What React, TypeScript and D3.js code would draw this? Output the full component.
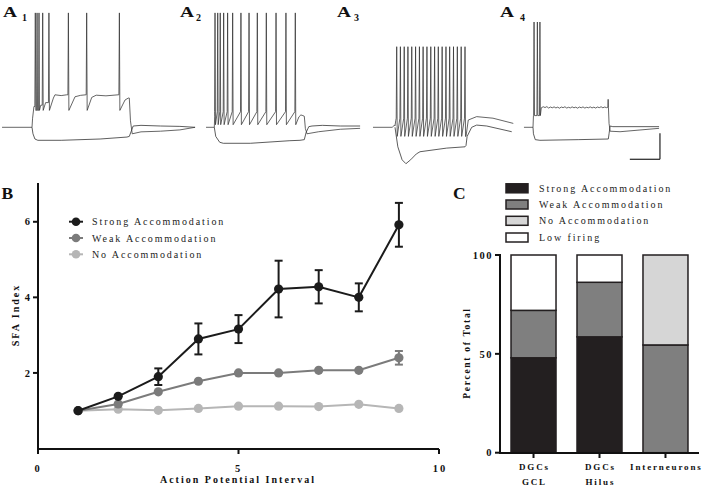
import React, { useEffect } from "react";
import * as d3 from "d3";

// ---------------- Panel B data ----------------
const intervals = [1, 2, 3, 4, 5, 6, 7, 8, 9];
const strongMean = [1.0, 1.38, 1.9, 2.9, 3.16, 4.22, 4.28, 4.0, 5.92];
const strongSem = [0, 0.05, 0.22, 0.41, 0.37, 0.75, 0.44, 0.37, 0.58];
const weakMean = [1.0, 1.18, 1.5, 1.78, 2.0, 2.0, 2.07, 2.07, 2.4];
const weakSem = [0, 0.04, 0.05, 0.05, 0.12, 0.12, 0.12, 0.12, 0.18];
const noMean = [1.0, 1.04, 1.01, 1.06, 1.12, 1.12, 1.11, 1.17, 1.06];
const noSem = [0, 0.03, 0.02, 0.03, 0.03, 0.03, 0.03, 0.08, 0.08];
const seriesNames = ["Strong Accommodation", "Weak Accommodation", "No Accommodation"];
const bXTicks = [0, 5, 10];
const bYTicks = [2, 4, 6];

// ---------------- Panel C data ----------------
const groups = ["DGCs GCL", "DGCs Hilus", "Interneurons"];
const groupLine1 = ["DGCs", "DGCs", "Interneurons"];
const groupLine2 = ["GCL", "Hilus", ""];
const strongPct = [48, 58.6, 0];
const weakPct = [24, 27.6, 54.5];
const noPct = [0, 0, 45.5];
const lowPct = [28, 13.8, 0];
const cCategories = ["Strong Accommodation", "Weak Accommodation", "No Accommodation", "Low firing"];
const cYTicks = [0, 50, 100];

// ---------------- Traces (time in ms from step onset, voltage in mV) ----------------
const a1Spikes = [17, 26, 36, 55, 87, 187, 281, 449];
const a1Dep: [number, number][] = [[-154, -65], [0, -65], [3, -58], [10, -49], [45, -48], [70, -46], [110, -42.5], [118, -40], [150, -40.6], [178, -40], [221, -41.5], [250, -40.4], [277, -40], [307, -42], [330, -40.3], [380, -40.8], [443, -40], [478, -44], [495, -42.5], [500, -42.5], [506, -60], [515, -70], [560, -68.5], [660, -68], [760, -67], [838, -65]];
const a1Hyp: [number, number][] = [[0, -65], [5, -70], [15, -74], [30, -75], [150, -75], [350, -74], [488, -72.5], [500, -72], [510, -68], [520, -64], [560, -63.5], [660, -64], [760, -64.3], [838, -65]];

const a2Spikes = [4, 19, 33, 52, 74, 102, 148, 193, 239, 289, 343, 398, 450];
const a2Dep: [number, number][] = [[-46, -65], [0, -65], [2, -57], [470, -57], [481, -55.5], [492, -56], [500, -56.5], [506, -66], [515, -70], [580, -68.4], [700, -66.5], [810, -65.8]];
const a2Hyp: [number, number][] = [[0, -65], [8, -72], [30, -76.5], [50, -77.3], [200, -77.3], [420, -75.3], [476, -75], [500, -74.5], [510, -69], [525, -64.5], [543, -64], [600, -63.5], [700, -64], [810, -64]];

const a3Spikes = [12, 38, 65, 91, 118, 145, 172, 198, 225, 252, 279, 305, 332, 359, 385, 412, 439, 466, 493];
const a3Dep: [number, number][] = [[-155, -65], [-20, -65], [-5, -63.5], [0, -64], [5, -60], [500, -72], [516, -59.4], [575, -56.8], [690, -58], [833, -62]];
const a3Hyp: [number, number][] = [[0, -65], [20, -80], [50, -90], [77, -93], [110, -90], [150, -85.5], [176, -83.8], [364, -81], [493, -80], [500, -79], [508, -72], [540, -65], [575, -63.3], [646, -64], [822, -68.4]];

const a4Spikes = [7, 29, 46];
const a4Dep: [number, number][] = [[-60, -65], [0, -65], [3, -56], [55, -50], [68, -49.2], [80, -49.8], [92, -49.1], [104, -50.2], [116, -49.4], [128, -50], [140, -49.3], [152, -50.1], [164, -49.5], [176, -50.3], [188, -49.4], [200, -49.9], [212, -49.2], [224, -50.2], [236, -49.6], [248, -50.1], [260, -49.3], [272, -50], [284, -49.5], [296, -50.3], [308, -49.4], [320, -50], [332, -49.3], [344, -50.2], [356, -49.6], [368, -50], [380, -49.3], [392, -50.1], [404, -49.5], [416, -50.2], [428, -49.4], [440, -49.9], [452, -49.2], [464, -50], [476, -49.4], [488, -49.9], [497, -49.6], [499, -43.5], [501, -50], [505, -62], [512, -68], [578, -68.4], [837, -65.8]];
const a4Hyp: [number, number][] = [[0, -65], [3, -70], [15, -74.5], [46, -75], [300, -74.5], [500, -74], [505, -70], [512, -64], [530, -64.5], [837, -64.5]];

const scaleBarMs = 200;
const scaleBarMv = 20;

const FONT = "'Liberation Serif', 'Times New Roman', serif";

function buildTrace(knots: [number, number][], spikes: number[], peak: number, ahp: number, w: number, thr?: number) {
  const events: { t: number; v?: number; s: boolean }[] = [
    ...knots.map((k) => ({ t: k[0], v: k[1], s: false })),
    ...spikes.map((t) => ({ t, s: true })),
  ].sort((a, b) => a.t - b.t);
  const pts: [number, number][] = [];
  for (const e of events) {
    if (!e.s) pts.push([e.t, e.v as number]);
    else {
      const last = pts[pts.length - 1];
      const th = thr !== undefined ? thr : last[1];
      pts.push([e.t - w, th]);
      pts.push([e.t, peak]);
      pts.push([e.t + w, ahp]);
    }
  }
  return pts;
}

const vScale = d3.scaleLinear().domain([-65, 20]).range([127.3, 127.3 - 85 * 1.3]);

function TracePanel(props: { x0: number; x1: number; dep: [number, number][]; hyp: [number, number][]; spikes: number[]; peak: number; ahp: number; w: number; thr?: number; label: string; lx: number; sx: number }) {
  const xs = d3.scaleLinear().domain([0, 500]).range([props.x0, props.x1]);
  const line = d3.line<[number, number]>().x((d) => xs(d[0])).y((d) => vScale(d[1]));
  const depPts = buildTrace(props.dep, props.spikes, props.peak, props.ahp, props.w, props.thr);
  return (
    <g>
      <path d={line(props.hyp) || ""} fill="none" stroke="#333" strokeWidth={0.8} />
      <path d={line(depPts) || ""} fill="none" stroke="#333" strokeWidth={0.75} />
      <text x={props.lx} y={17} fontFamily={FONT} fontWeight="bold" fontSize={15} fill="#111" transform={`translate(${props.lx},0) scale(1.3,1) translate(${-props.lx},0)`}>A</text>
      <text x={props.sx} y={21} fontFamily={FONT} fontWeight="bold" fontSize={10} fill="#111">{props.label}</text>
    </g>
  );
}

function PanelB() {
  const x = d3.scaleLinear().domain([0, 10]).range([38, 439]);
  const y = d3.scaleLinear().domain([0, 7]).range([448.5, 184]);
  const colors = ["#1b1b1b", "#7b7b7b", "#b6b6b6"];
  const means = [strongMean, weakMean, noMean];
  const sems = [strongSem, weakSem, noSem];
  const line = d3.line<number>().x((_, i) => x(intervals[i])).y((d) => y(d));
  const r = 4.6;
  const order = [2, 1, 0];
  return (
    <g fontFamily={FONT}>
      <text x={1.5} y={198.5} fontSize={17.5} fontWeight="bold" fill="#111">B</text>
      {order.map((s) => (
        <g key={s}>
          <path d={line(means[s]) || ""} fill="none" stroke={colors[s]} strokeWidth={2} />
          {means[s].map((m, i) => {
            const e = sems[s][i];
            const cx = x(intervals[i]);
            const show = (y(m) - y(m + e)) > r;
            return (
              <g key={i}>
                {show && (
                  <g stroke={colors[s]} strokeWidth={2}>
                    <line x1={cx} x2={cx} y1={y(m + e)} y2={y(m - e)} />
                    <line x1={cx - 4} x2={cx + 4} y1={y(m + e)} y2={y(m + e)} />
                    <line x1={cx - 4} x2={cx + 4} y1={y(m - e)} y2={y(m - e)} />
                  </g>
                )}
                <circle cx={cx} cy={y(m)} r={r} fill={colors[s]} />
              </g>
            );
          })}
        </g>
      ))}
      {/* axes */}
      <line x1={38} x2={38} y1={183} y2={449.5} stroke="#111" strokeWidth={2} />
      <line x1={37} x2={439} y1={449} y2={449} stroke="#111" strokeWidth={2} />
      {bYTicks.map((t) => (
        <g key={t}>
          <line x1={33} x2={38} y1={y(t)} y2={y(t)} stroke="#111" strokeWidth={2} />
          <text x={30} y={y(t)} dy="0.35em" textAnchor="end" fontSize={10.5} fontWeight="bold" fill="#111">{t}</text>
        </g>
      ))}
      {bXTicks.map((t) => (
        <g key={t}>
          <line x1={x(t)} x2={x(t)} y1={449} y2={454} stroke="#111" strokeWidth={2} />
          <text x={x(t)} y={468} dy="0.35em" dx={t >= 10 ? 1 : 0} textAnchor="middle" fontSize={10.5} fontWeight="bold" letterSpacing={2} fill="#111">{t}</text>
        </g>
      ))}
      <text x={238} y={479} dy="0.35em" textAnchor="middle" fontSize={10} fontWeight="bold" letterSpacing={2} fill="#111">Action Potential Interval</text>
      <text transform={`translate(15,315) rotate(-90)`} textAnchor="middle" dy="0.35em" fontSize={10} fontWeight="bold" letterSpacing={2} fill="#111">SFA Index</text>
      {/* legend */}
      {seriesNames.map((n, i) => {
        const ly = [221.7, 238, 254.3][i];
        return (
          <g key={n}>
            <line x1={69} x2={83} y1={ly} y2={ly} stroke={colors[i]} strokeWidth={2} />
            <circle cx={76} cy={ly} r={4.3} fill={colors[i]} />
            <text x={92} y={ly} dy="0.35em" fontSize={10} letterSpacing={1.9} fill="#222">{n}</text>
          </g>
        );
      })}
    </g>
  );
}

function PanelC() {
  const y = d3.scaleLinear().domain([0, 100]).range([452.7, 255]);
  const x = d3.scaleBand<string>().domain(groups).range([500, 699]).paddingInner(0.318).paddingOuter(0.167);
  const fills = ["#231f20", "#7f7f7f", "#d6d6d6", "#ffffff"];
  const rows = groups.map((g, i) => ({ group: g, strong: strongPct[i], weak: weakPct[i], no: noPct[i], low: lowPct[i] }));
  const keys = ["strong", "weak", "no", "low"];
  const stack = d3.stack<any>().keys(keys)(rows);
  return (
    <g fontFamily={FONT}>
      <text x={453} y={198.5} fontSize={17.5} fontWeight="bold" fill="#111">C</text>
      {stack.map((layer, li) => (
        <g key={li}>
          {layer.map((d, i) => (d[1] - d[0] > 0 ? (
            <rect key={i} x={x(groups[i])} y={y(d[1])} width={x.bandwidth()} height={y(d[0]) - y(d[1])} fill={fills[li]} stroke="#231f20" strokeWidth={1.5} />
          ) : null))}
        </g>
      ))}
      <line x1={500} x2={500} y1={254} y2={453.5} stroke="#111" strokeWidth={2} />
      <line x1={499} x2={699} y1={453} y2={453} stroke="#111" strokeWidth={2} />
      {cYTicks.map((t) => (
        <g key={t}>
          <line x1={495} x2={500} y1={y(t)} y2={y(t)} stroke="#111" strokeWidth={2} />
          <text x={493} y={y(t)} dy="0.35em" textAnchor="end" fontSize={10.5} fontWeight="bold" letterSpacing={1.5} fill="#111">{t}</text>
        </g>
      ))}
      {groups.map((g, i) => {
        const cx = (x(g) as number) + x.bandwidth() / 2;
        return (
          <g key={g}>
            <line x1={cx} x2={cx} y1={453} y2={458} stroke="#111" strokeWidth={2} />
            <text x={cx} y={467} dx={0.9} dy="0.35em" textAnchor="middle" fontSize={9} fontWeight="bold" letterSpacing={1.85} fill="#111">{groupLine1[i]}</text>
            <text x={cx} y={482} dx={0.9} dy="0.35em" textAnchor="middle" fontSize={9} fontWeight="bold" letterSpacing={1.85} fill="#111">{groupLine2[i]}</text>
          </g>
        );
      })}
      <text transform={`translate(467,353) rotate(-90)`} textAnchor="middle" dy="0.35em" fontSize={9.5} fontWeight="bold" letterSpacing={1.7} fill="#111">Percent of Total</text>
      {cCategories.map((n, i) => {
        const ly = [188.3, 204.5, 220.8, 237.5][i];
        return (
          <g key={n}>
            <rect x={506} y={ly - 4.5} width={22} height={9} fill={fills[i]} stroke="#231f20" strokeWidth={1.5} />
            <text x={539} y={ly} dy="0.35em" fontSize={10} letterSpacing={1.9} fill="#222">{n}</text>
          </g>
        );
      })}
    </g>
  );
}

export default function App() {
  useEffect(() => {
    document.body.style.margin = "0";
  }, []);
  const xs4 = d3.scaleLinear().domain([0, 500]).range([533, 608.3]);
  const sbEndT = 843;
  const sbBottomV = -89.6;
  return (
    <svg width={706} height={487} style={{ position: "absolute", left: 0, top: 0, background: "#fff" }}>
      <rect width={706} height={487} fill="#fff" />
      <TracePanel x0={32} x1={129.3} dep={a1Dep} hyp={a1Hyp} spikes={a1Spikes} peak={23} ahp={-52} w={2.5} label="1" lx={3} sx={22} />
      <TracePanel x0={214.3} x1={304.3} dep={a2Dep} hyp={a2Hyp} spikes={a2Spikes} peak={23} ahp={-63} w={2.5} thr={-53} label="2" lx={180} sx={196} />
      <TracePanel x0={395} x1={466} dep={a3Dep} hyp={a3Hyp} spikes={a3Spikes} peak={-3} ahp={-72} w={3.5} thr={-58} label="3" lx={337} sx={354} />
      <TracePanel x0={533} x1={608.3} dep={a4Dep} hyp={a4Hyp} spikes={a4Spikes} peak={16} ahp={-56} w={3} label="4" lx={500} sx={520} />
      <g stroke="#222" strokeWidth={1.2} fill="none">
        <line x1={xs4(sbEndT)} x2={xs4(sbEndT)} y1={vScale(sbBottomV)} y2={vScale(sbBottomV + scaleBarMv)} />
        <line x1={xs4(sbEndT - scaleBarMs)} x2={xs4(sbEndT)} y1={vScale(sbBottomV)} y2={vScale(sbBottomV)} />
      </g>
      <PanelB />
      <PanelC />
    </svg>
  );
}
